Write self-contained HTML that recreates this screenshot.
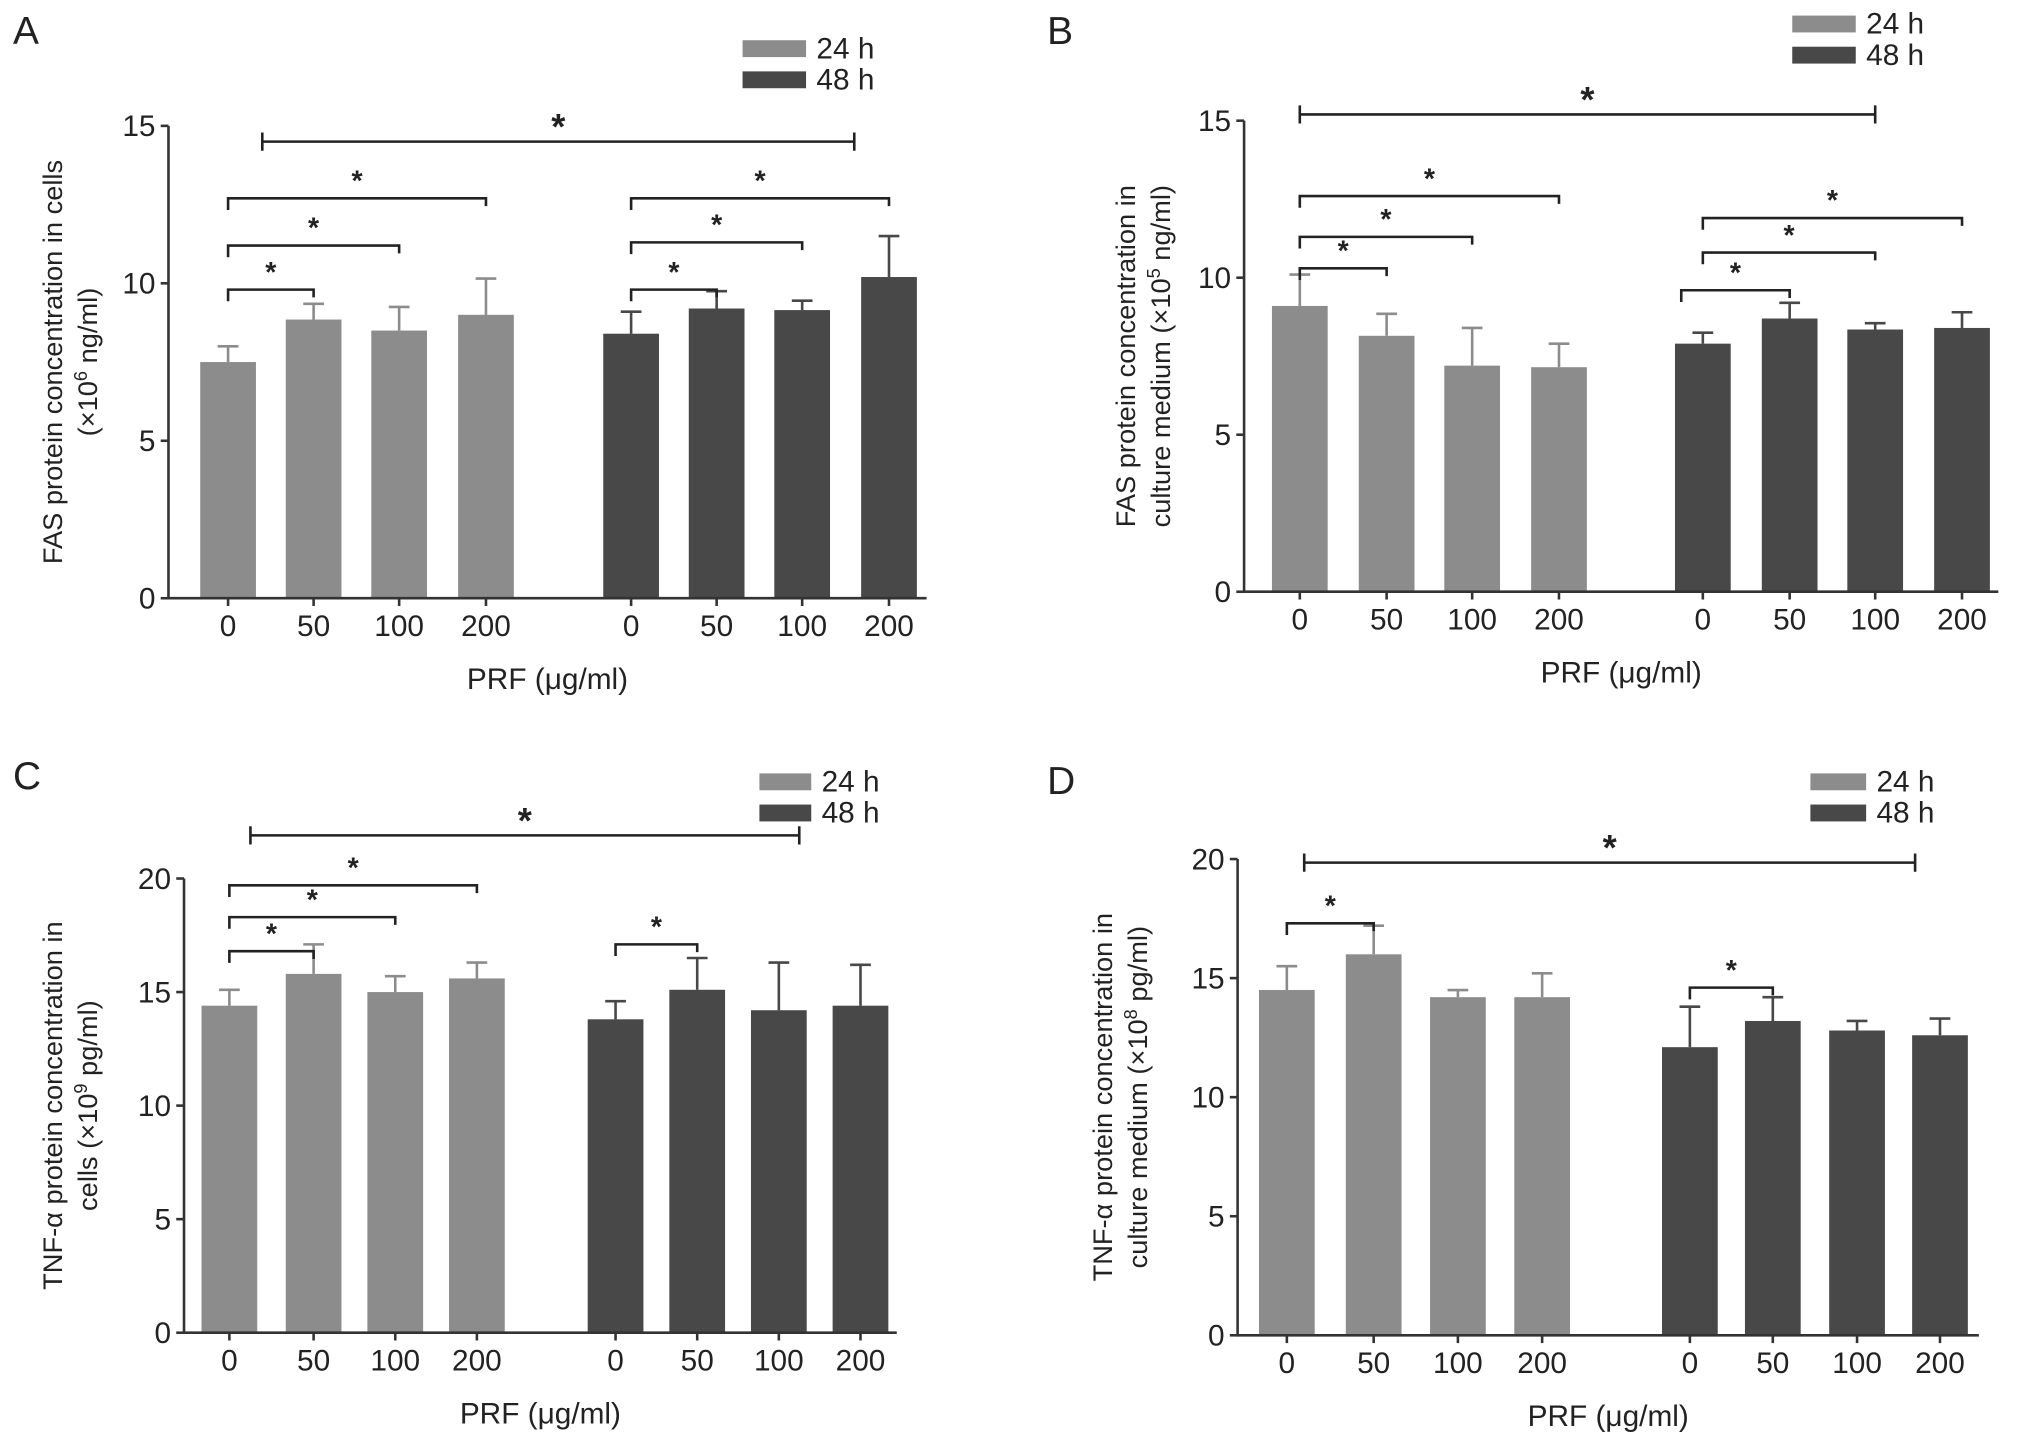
<!DOCTYPE html>
<html><head><meta charset="utf-8">
<style>
html,body{margin:0;padding:0;background:#fff;}
svg{display:block;}
text{font-family:"Liberation Sans",sans-serif;fill:#222;}
</style></head>
<body>
<svg id="fig" width="2032" height="1443" viewBox="0 0 1568 1112" preserveAspectRatio="none" xmlns="http://www.w3.org/2000/svg"></svg>
<script>
// ---- data ----
const categories = ["0","50","100","200","0","50","100","200"];
const groups = ["24 h","48 h"];
const aMeans24 = [7.5, 8.85, 8.5, 9.0];
const aMeans48 = [8.4, 9.2, 9.15, 10.2];
const aErr24 = [0.5, 0.5, 0.75, 1.15];
const aErr48 = [0.7, 0.55, 0.3, 1.3];
const bMeans24 = [9.1, 8.15, 7.2, 7.15];
const bMeans48 = [7.9, 8.7, 8.35, 8.4];
const bErr24 = [1.0, 0.7, 1.2, 0.75];
const bErr48 = [0.35, 0.5, 0.2, 0.5];
const cMeans24 = [14.4, 15.8, 15.0, 15.6];
const cMeans48 = [13.8, 15.1, 14.2, 14.4];
const cErr24 = [0.7, 1.3, 0.7, 0.7];
const cErr48 = [0.8, 1.4, 2.1, 1.8];
const dMeans24 = [14.5, 16.0, 14.2, 14.2];
const dMeans48 = [12.1, 13.2, 12.8, 12.6];
const dErr24 = [1.0, 1.2, 0.3, 1.0];
const dErr48 = [1.7, 1.0, 0.4, 0.7];
const aTicks = [0,5,10,15];
const bTicks = [0,5,10,15];
const cTicks = [0,5,10,15,20];
const dTicks = [0,5,10,15,20];
// significance brackets: [fromBar, toBar, level]
const aSig = [[0,1,9.8],[0,2,11.2],[0,3,12.7],[4,5,9.8],[4,6,11.3],[4,7,12.7],[0.4,6.6,14.5]];
const bSig = [[0,1,10.3],[0,2,11.3],[0,3,12.6],[3.85,5,9.6],[4,6,10.8],[4,7,11.9],[0,6,15.2]];
const cSig = [[0,1,16.8],[0,2,18.3],[0,3,19.7],[4,5,17.1],[0.25,6.25,21.9]];
const dSig = [[0,1,17.3],[4,5,14.6],[0.2,6.7,19.85]];

const NS="http://www.w3.org/2000/svg";
const svg=document.getElementById('fig');
function el(tag,attrs,parent){const e=document.createElementNS(NS,tag);for(const k in attrs)e.setAttribute(k,attrs[k]);(parent||svg).appendChild(e);return e;}
const LIGHT="#8c8c8c", DARK="#484848";

function panel(cfg){
  const g=el('g',{});
  
  
  const ymax=cfg.ticks[cfg.ticks.length-1];
  const yS=v=>cfg.y0-(cfg.y0-cfg.yTop)*v/ymax;
  const xS=p=>{
    const c=cfg.centers;
    if(p<=0) return c[0]+p*(c[1]-c[0]);
    if(p>=7) return c[7]+(p-7)*(c[7]-c[6]);
    const i=Math.floor(p), f=p-i;
    return c[i]+f*(c[i+1]-c[i]);
  };
  const bw=cfg.bw;
  const L=el('text',{x:cfg.letterX,y:cfg.letterY,'font-size':30},g);L.textContent=cfg.letter;
  
  
  groups.forEach((gname,k)=>{
    const r=el('rect',{x:cfg.legX,y:cfg.legY+k*24,width:cfg.legW,height:13,fill:k?DARK:LIGHT},g);
    
    
    const t=el('text',{x:cfg.legX+cfg.legW+8,y:cfg.legY+k*24+14,'font-size':23},g);t.textContent=gname;
    
    
  });
  const all=cfg.m24.concat(cfg.m48), errs=cfg.e24.concat(cfg.e48);
  all.forEach((v,i)=>{
    const cx=cfg.centers[i], col=i<4?LIGHT:DARK;
    const top=yS(v+errs[i]);
    const e=el('path',{d:`M${cx} ${yS(v)}V${top}M${cx-8} ${top}H${cx+8}`,stroke:col,'stroke-width':2,fill:'none'},g);
    
    
    const r=el('rect',{x:cx-bw/2,y:yS(v),width:bw,height:cfg.y0-yS(v),fill:col},g);
    
    
  });
  const ax=el('path',{d:`M${cfg.axX} ${cfg.yTop}V${cfg.y0}H${cfg.axEnd}`,stroke:'#333','stroke-width':2,fill:'none'},g);
  
  
  cfg.ticks.forEach(t=>{
    el('line',{x1:cfg.axX-6,x2:cfg.axX,y1:yS(t),y2:yS(t),stroke:'#333','stroke-width':2},g);
    const tx=el('text',{x:cfg.axX-10,y:yS(t)+8,'font-size':23,'text-anchor':'end'},g);tx.textContent=t;
    
    
  });
  categories.forEach((c,i)=>{
    const cx=cfg.centers[i];
    el('line',{x1:cx,x2:cx,y1:cfg.y0,y2:cfg.y0+6,stroke:'#333','stroke-width':2},g);
    const tx=el('text',{x:cx,y:cfg.y0+29,'font-size':23,'text-anchor':'middle'},g);tx.textContent=c;
    
    
  });
  const xt=el('text',{x:(cfg.axX+cfg.axEnd)/2,y:cfg.y0+70,'font-size':23,'text-anchor':'middle'},g);xt.textContent="PRF (\u03bcg/ml)";
  
  
  const yc=(cfg.y0+cfg.yTop)/2;
  cfg.ylab.forEach((ln,k)=>{
    const t=el('text',{x:0,y:0,'font-size':21,'text-anchor':'middle',transform:`translate(${cfg.ylabX+k*27},${yc}) rotate(-90)`},g);
    t.innerHTML=ln;
    
    
  });
  cfg.sig.forEach((s,k)=>{
    const x1=xS(s[0]), x2=xS(s[1]), y=yS(s[2]);
    const big=k===cfg.sig.length-1 && Math.abs(s[1]-s[0])>4;
    const d=big?`M${x1} ${y-7}V${y+7}M${x1} ${y}H${x2}M${x2} ${y-7}V${y+7}`:`M${x1} ${y+9}V${y}H${x2}V${y+6}`;
    const p=el('path',{d,stroke:'#222','stroke-width':2,fill:'none'},g);
    
    
    const st=el('text',{x:(x1+x2)/2,y:y-(big?2:6),'font-size':big?28:22,'font-weight':'bold','text-anchor':'middle'},g);st.textContent='*';
    
    
  });
}

panel({letter:'A',letterX:10,letterY:34,legX:573,legY:31,legW:49,
  axX:130,axEnd:715,y0:461,yTop:97,bw:43,centers:[176,242,308,375,487,553,619,686],
  ticks:aTicks,m24:aMeans24,m48:aMeans48,e24:aErr24,e48:aErr48,sig:aSig,ylabX:48,
  ylab:['FAS protein concentration in cells','(\u00d710<tspan baseline-shift="super" font-size="14">6</tspan> ng/ml)']});
panel({letter:'B',letterX:808,letterY:34,legX:1383,legY:12,legW:49,
  axX:960,axEnd:1542,y0:456,yTop:93,bw:43,centers:[1003,1070,1136,1203,1314,1381,1447,1514],
  ticks:bTicks,m24:bMeans24,m48:bMeans48,e24:bErr24,e48:bErr48,sig:bSig,ylabX:876,
  ylab:['FAS protein concentration in','culture medium (\u00d710<tspan baseline-shift="super" font-size="14">5</tspan> ng/ml)']});
panel({letter:'C',letterX:10,letterY:608,legX:586,legY:596,legW:40,
  axX:142,axEnd:692,y0:1027,yTop:677,bw:43,centers:[177,242,305,368,475,538,601,664],
  ticks:cTicks,m24:cMeans24,m48:cMeans48,e24:cErr24,e48:cErr48,sig:cSig,ylabX:48,
  ylab:['TNF-\u03b1 protein concentration in','cells (\u00d710<tspan baseline-shift="super" font-size="14">9</tspan> pg/ml)']});
panel({letter:'D',letterX:808,letterY:612,legX:1397,legY:596,legW:43,
  axX:955,axEnd:1527,y0:1029,yTop:662,bw:43,centers:[993,1060,1125,1190,1304,1368,1433,1497],
  ticks:dTicks,m24:dMeans24,m48:dMeans48,e24:dErr24,e48:dErr48,sig:dSig,ylabX:858,
  ylab:['TNF-\u03b1 protein concentration in','culture medium (\u00d710<tspan baseline-shift="super" font-size="14">8</tspan> pg/ml)']});
</script>
</body></html>
